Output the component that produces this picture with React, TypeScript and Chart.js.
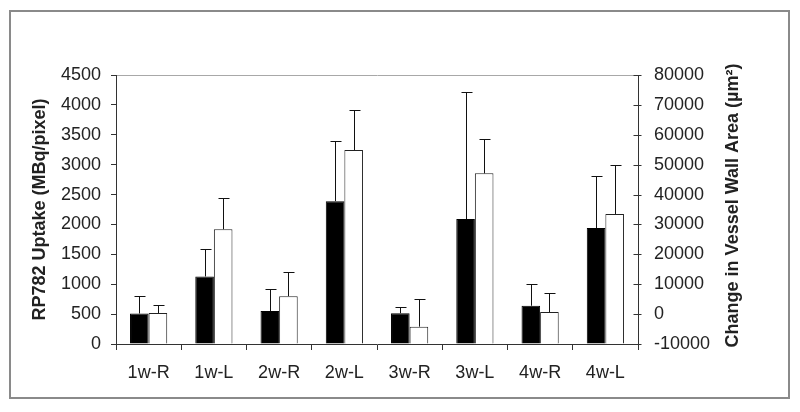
import React, { useEffect, useRef } from "react";
import { Chart, registerables } from "chart.js";

Chart.register(...registerables);

const categories = ["1w-R", "1w-L", "2w-R", "2w-L", "3w-R", "3w-L", "4w-R", "4w-L"];
const uptake = [510, 1130, 550, 2390, 515, 2090, 640, 1940];
const uptakeErr = [300, 460, 370, 1000, 110, 2130, 360, 870];
const wallArea = [350, 28400, 6000, 54900, -4200, 47100, 700, 33500];
const wallErr = [2770, 10340, 8140, 13400, 9200, 11500, 6300, 16250];

const leftTitle = "RP782 Uptake (MBq/pixel)";
const rightTitle = "Change in Vessel Wall Area (\u00B5m\u00B2)";

const FONT = "'Liberation Sans', Arial, sans-serif";
const TEXT = "#222222";
const AXIS = "#333333";

const errorBars = [uptakeErr, wallErr];

const errorBarPlugin = {
  id: "errorBars",
  afterDatasetsDraw(chart: any) {
    const ctx = chart.ctx;
    ctx.save();
    ctx.strokeStyle = "#111111";
    ctx.lineWidth = 1;
    chart.data.datasets.forEach((ds: any, i: number) => {
      const meta = chart.getDatasetMeta(i);
      const scale = chart.scales[meta.yAxisID];
      const errs = errorBars[i];
      meta.data.forEach((el: any, j: number) => {
        const v = ds.data[j];
        const top = scale.getPixelForValue(v + errs[j]);
        const x = Math.round(el.x) + 0.5;
        const yv = el.y;
        ctx.beginPath();
        ctx.moveTo(x, yv);
        ctx.lineTo(x, Math.round(top) + 0.5);
        ctx.moveTo(x - 5, Math.round(top) + 0.5);
        ctx.lineTo(x + 6, Math.round(top) + 0.5);
        ctx.stroke();
      });
    });
    ctx.restore();
  },
};

const rightAxisPlugin = {
  id: "rightAxisExtras",
  afterDraw(chart: any) {
    const ctx = chart.ctx;
    const s = chart.scales.y2;
    const area = chart.chartArea;
    ctx.save();
    ctx.strokeStyle = AXIS;
    ctx.lineWidth = 1;
    const x = Math.round(s.left) + 0.5;
    s.ticks.forEach((t: any) => {
      const y = Math.round(s.getPixelForValue(t.value)) + 0.5;
      ctx.beginPath();
      ctx.moveTo(x - 5, y);
      ctx.lineTo(x + 3, y);
      ctx.stroke();
    });
    ctx.fillStyle = TEXT;
    ctx.font = `bold 18px ${FONT}`;
    ctx.textAlign = "center";
    ctx.textBaseline = "middle";
    ctx.translate(s.left + 95, (area.top + area.bottom) / 2 - 4);
    ctx.rotate(-Math.PI / 2);
    ctx.fillText(rightTitle, 0, 0);
    ctx.restore();
  },
};

const plain = (v: any) => String(v);

export default function App() {
  const ref = useRef<HTMLCanvasElement | null>(null);

  useEffect(() => {
    if (!ref.current) return;
    const chart = new Chart(ref.current, {
      type: "bar",
      data: {
        labels: categories,
        datasets: [
          {
            label: "RP782 Uptake",
            data: uptake,
            yAxisID: "y",
            backgroundColor: "#000000",
            borderColor: "#000000",
            borderWidth: 1,
          },
          {
            label: "Change in Vessel Wall Area",
            data: wallArea,
            yAxisID: "y2",
            base: -10000,
            backgroundColor: "#ffffff",
            borderColor: "#222222",
            borderWidth: 1,
          } as any,
        ],
      },
      options: {
        responsive: false,
        animation: false,
        layout: { padding: { left: 10, right: 10, top: 75, bottom: 14 } },
        datasets: { bar: { categoryPercentage: 0.57, barPercentage: 1 } },
        plugins: { legend: { display: false }, tooltip: { enabled: false } },
        scales: {
          x: {
            afterFit: (s: any) => { s.height = 54; },
            grid: {
              display: true,
              drawOnChartArea: false,
              tickLength: 6,
              tickColor: AXIS,
              offset: true,
            },
            border: { display: true, color: AXIS, width: 1 },
            ticks: { color: TEXT, font: { family: FONT, size: 18 }, padding: 12 },
          },
          y: {
            position: "left",
            min: 0,
            max: 4500,
            afterFit: (s: any) => { s.width = 106; },
            grid: {
              color: (c: any) => (c.tick && c.tick.value === 4500 ? "#a8a8a8" : "rgba(0,0,0,0)"),
              tickColor: AXIS,
              tickLength: 5,
            },
            border: { display: true, color: AXIS, width: 1 },
            ticks: { stepSize: 500, color: TEXT, font: { family: FONT, size: 18 }, padding: 10, callback: plain },
            title: {
              display: true,
              text: leftTitle,
              color: TEXT,
              font: { family: FONT, size: 18, weight: "bold" },
              padding: { top: 19, bottom: 0 },
            },
          },
          y2: {
            position: "right",
            min: -10000,
            max: 80000,
            afterFit: (s: any) => { s.width = 152; },
            grid: { drawOnChartArea: false, drawTicks: false },
            border: { display: true, color: AXIS, width: 1 },
            ticks: { stepSize: 10000, color: TEXT, font: { family: FONT, size: 18 }, padding: 16, callback: plain },
          },
        },
      },
      plugins: [errorBarPlugin, rightAxisPlugin],
    });
    return () => chart.destroy();
  }, []);

  return (
    <div style={{ position: "fixed", left: 0, top: 0, width: 800, height: 412, background: "#fff" }}>
      <div
        style={{
          position: "absolute",
          left: 9,
          top: 10,
          width: 781,
          height: 389,
          boxSizing: "border-box",
          border: "2px solid #8a8a8a",
        }}
      />
      <canvas ref={ref} width={800} height={412} style={{ position: "absolute", left: 0, top: 0 }} />
    </div>
  );
}
